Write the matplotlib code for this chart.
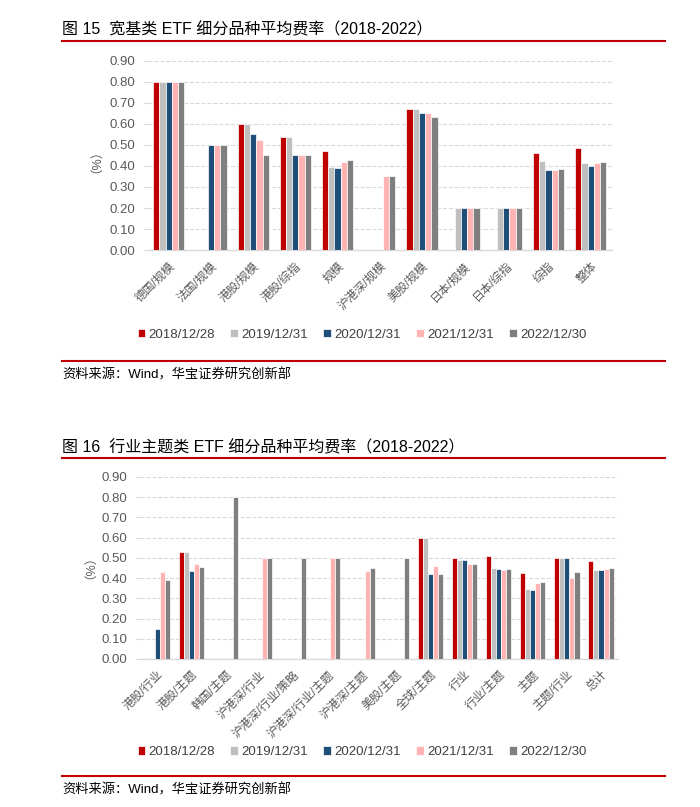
import numpy as np
import matplotlib
matplotlib.use('Agg')
import matplotlib.pyplot as plt
from matplotlib.lines import Line2D

plt.rcParams['font.family'] = ['Liberation Sans', 'Noto Sans CJK SC', 'DejaVu Sans']

nan = np.nan

# 数据
series_names = ['2018/12/28', '2019/12/31', '2020/12/31', '2021/12/31', '2022/12/30']
series_colors = ['#C00000', '#BFBFBF', '#1F4E79', '#FFB3B3', '#7F7F7F']

broad_categories = ['德国/规模', '法国/规模', '港股/规模', '港股/综指', '规模', '沪港深/规模',
                    '美股/规模', '日本/规模', '日本/综指', '综指', '整体']
broad_2018 = [0.80, nan, 0.60, 0.535, 0.47, nan, 0.67, nan, nan, 0.46, 0.487]
broad_2019 = [0.80, nan, 0.60, 0.535, 0.395, nan, 0.67, 0.20, 0.20, 0.425, 0.412]
broad_2020 = [0.80, 0.50, 0.55, 0.45, 0.39, nan, 0.65, 0.20, 0.20, 0.38, 0.398]
broad_2021 = [0.80, 0.50, 0.525, 0.45, 0.42, 0.35, 0.65, 0.20, 0.20, 0.38, 0.412]
broad_2022 = [0.80, 0.50, 0.45, 0.45, 0.43, 0.35, 0.63, 0.20, 0.20, 0.385, 0.42]

theme_categories = ['港股/行业', '港股/主题', '韩国/主题', '沪港深/行业', '沪港深/行业/策略',
                    '沪港深/行业/主题', '沪港深/主题', '美股/主题', '全球/主题', '行业',
                    '行业/主题', '主题', '主题/行业', '总计']
theme_2018 = [nan, 0.528, nan, nan, nan, nan, nan, nan, 0.597, 0.50, 0.51, 0.424, 0.497, 0.484]
theme_2019 = [nan, 0.528, nan, nan, nan, nan, nan, nan, 0.597, 0.49, 0.45, 0.344, 0.497, 0.44]
theme_2020 = [0.15, 0.436, nan, nan, nan, nan, nan, nan, 0.42, 0.49, 0.447, 0.339, 0.497, 0.44]
theme_2021 = [0.428, 0.469, nan, 0.497, nan, 0.50, 0.436, nan, 0.46, 0.469, 0.44, 0.375, 0.398, 0.446]
theme_2022 = [0.39, 0.457, 0.80, 0.497, 0.50, 0.50, 0.449, 0.497, 0.42, 0.469, 0.444, 0.38, 0.428, 0.449]

yticks = np.arange(0, 0.91, 0.1)
GRAY = '#595959'
RED = '#C00000'


def draw_panel(ax, categories, series):
    x = np.arange(len(categories))
    w = 0.148
    for i, vals in enumerate(series):
        ax.bar(x + (i - 2) * w, vals, w, color=series_colors[i],
               edgecolor='white', linewidth=0.5, label=series_names[i], zorder=3)
    ax.set_xlim(-0.5, len(categories) - 0.5)
    ax.set_ylim(0, 0.9)
    ax.set_yticks(yticks)
    ax.set_yticklabels([f'{v:.2f}' for v in yticks], color=GRAY, fontsize=9.5)
    ax.set_xticks(x)
    ax.set_xticklabels(categories, rotation=45, ha='right', va='top',
                       rotation_mode='anchor', color=GRAY, fontsize=8.5)
    ax.tick_params(axis='y', length=3, color='#D9D9D9', pad=6)
    ax.tick_params(axis='x', length=0, pad=7)
    ax.grid(axis='y', color='#D9D9D9', linestyle='--', linewidth=0.8, zorder=0)
    for s in ['top', 'right', 'left']:
        ax.spines[s].set_visible(False)
    ax.spines['bottom'].set_color('#D9D9D9')
    ax.spines['bottom'].set_linewidth(1.0)


def add_legend(ax, y):
    ax.legend(loc='center', bbox_to_anchor=(0.517, y), bbox_transform=fig.transFigure,
              ncol=5, frameon=False, fontsize=9.5, handlelength=0.6, handleheight=0.6,
              handletextpad=0.2, columnspacing=1.2, labelcolor='#404040')


fig = plt.figure(figsize=(7.0, 8.07), dpi=100)

# 图15
ax1 = fig.add_axes([0.211, 0.690, 0.663, 0.235])
draw_panel(ax1, broad_categories, [broad_2018, broad_2019, broad_2020, broad_2021, broad_2022])
fig.text(0.128, 0.808, '（%）', rotation=90, ha='center', va='center', color=GRAY, fontsize=9)
fig.text(0.089, 0.963, '图 15  宽基类 ETF 细分品种平均费率（2018-2022）', fontsize=11.5, va='center')
fig.add_artist(Line2D([0.089, 0.95], [0.949, 0.949], color=RED, linewidth=1.5))
add_legend(ax1, 0.585)
fig.add_artist(Line2D([0.089, 0.95], [0.553, 0.553], color=RED, linewidth=1.5))
fig.text(0.089, 0.536, '资料来源：Wind，华宝证券研究创新部', fontsize=9.5, va='center')

# 图16
ax2 = fig.add_axes([0.200, 0.1834, 0.683, 0.2256])
draw_panel(ax2, theme_categories, [theme_2018, theme_2019, theme_2020, theme_2021, theme_2022])
fig.text(0.12, 0.305, '（%）', rotation=90, ha='center', va='center', color=GRAY, fontsize=9)
fig.text(0.089, 0.445, '图 16  行业主题类 ETF 细分品种平均费率（2018-2022）', fontsize=11.5, va='center')
fig.add_artist(Line2D([0.089, 0.95], [0.432, 0.432], color=RED, linewidth=1.5))
add_legend(ax2, 0.068)
fig.add_artist(Line2D([0.089, 0.95], [0.038, 0.038], color=RED, linewidth=1.5))
fig.text(0.089, 0.021, '资料来源：Wind，华宝证券研究创新部', fontsize=9.5, va='center')

fig.savefig('out.png', dpi=100)
